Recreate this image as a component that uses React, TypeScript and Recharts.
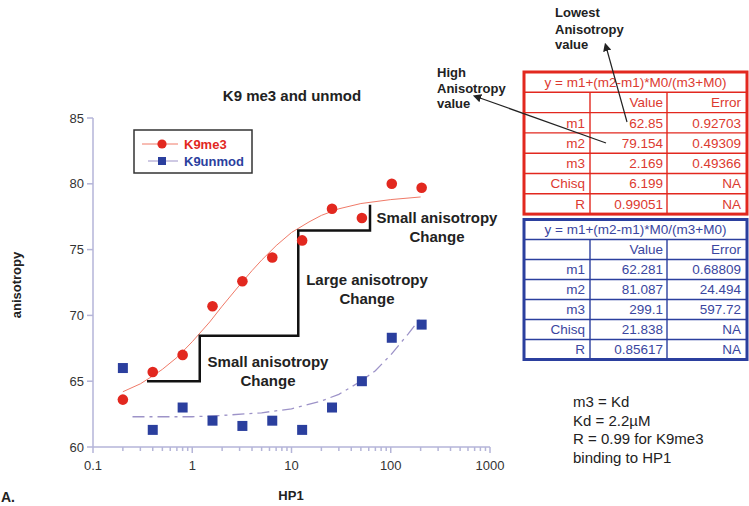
import React from "react";
import { ScatterChart, Scatter, XAxis, YAxis } from "recharts";

// HP1 concentration (log axis)
const hp1Dose = [0.2, 0.4, 0.8, 1.6, 3.2, 6.4, 12.8, 25.6, 51.2, 102.4, 204.8];
const k9me3 = [63.6, 65.7, 67.0, 70.7, 72.6, 74.4, 75.7, 78.1, 77.4, 80.0, 79.7];
const k9unmod = [66.0, 61.3, 63.0, 62.0, 61.6, 62.0, 61.3, 63.0, 65.0, 68.3, 69.3];

// fitted curves
const me3FitX = [0.2, 0.3, 0.4, 0.5, 0.7, 1, 1.5, 2, 3, 4, 5, 7, 10, 15, 20, 30, 50, 100, 200];
const me3FitY = [64.2, 64.8, 65.4, 65.9, 66.8, 68.0, 69.5, 70.7, 72.3, 73.4, 74.2, 75.3, 76.3, 77.1, 77.6, 78.1, 78.5, 78.8, 79.0];
const unmodFitX = [0.25, 0.5, 1, 2, 5, 10, 20, 30, 50, 70, 100, 150, 200];
const unmodFitY = [62.3, 62.3, 62.3, 62.4, 62.6, 62.9, 63.5, 64.0, 65.0, 65.8, 67.0, 68.6, 69.8];

// black step annotation
const stepX = [0.35, 1.19, 1.19, 11.7, 11.7, 61.8, 61.8];
const stepY = [65, 65, 68.45, 68.45, 76.45, 76.45, 78.4];

const xMajorTicks = [0.1, 1, 10, 100, 1000];
const xTickLabels = ["0.1", "1", "10", "100", "1000"];
const xMinorSteps = [2, 3, 4, 5, 6, 7, 8, 9];
const yTicks = [60, 65, 70, 75, 80, 85];

const paramNames = ["m1", "m2", "m3", "Chisq", "R"];
const me3Values = ["62.85", "79.154", "2.169", "6.199", "0.99051"];
const me3Errors = ["0.92703", "0.49309", "0.49366", "NA", "NA"];
const unmodValues = ["62.281", "81.087", "299.1", "21.838", "0.85617"];
const unmodErrors = ["0.68809", "24.494", "597.72", "NA", "NA"];
const fitEquation = "y = m1+(m2-m1)*M0/(m3+M0)";

const RED = "#e2281f";
const RED_LINE = "#f07a68";
const BLUE = "#2b3f9e";
const BLUE_LINE = "#9d93c8";
const AXIS = "#b5b5d8";
const FONT = "Arial, 'Liberation Sans', Helvetica, sans-serif";

const allXTicks = [
  ...xMajorTicks,
  ...xMajorTicks.slice(0, -1).flatMap((d) => xMinorSteps.map((m) => d * m)),
].sort((a, b) => a - b);

const me3Data = hp1Dose.map((x, i) => ({ x, y: k9me3[i] }));
const unmodData = hp1Dose.map((x, i) => ({ x, y: k9unmod[i] }));
const me3Fit = me3FitX.map((x, i) => ({ x, y: me3FitY[i] }));
const unmodFit = unmodFitX.map((x, i) => ({ x, y: unmodFitY[i] }));
const stepData = stepX.map((x, i) => ({ x, y: stepY[i] }));

const RedDot = (p: any) => <circle cx={p.cx} cy={p.cy} r={5.3} fill={RED} />;
const BlueSquare = (p: any) => <rect x={p.cx - 5} y={p.cy - 5} width={10} height={10} fill={BLUE} />;
const NoDot = () => <g />;

const XTick = (props: any) => {
  const { x, y, payload } = props;
  const idx = xMajorTicks.findIndex((t) => Math.abs(t - payload.value) < 1e-9);
  const major = idx >= 0;
  return (
    <g>
      <line x1={x} x2={x} y1={y} y2={y + (major ? 6 : 4)} stroke={AXIS} strokeWidth={1.5} />
      {major && (
        <text x={x} y={y + 23} textAnchor="middle" fontSize={13} fill="#333" fontFamily={FONT}>
          {xTickLabels[idx]}
        </text>
      )}
    </g>
  );
};

function FitTable(props: {
  top: number;
  rowH: number;
  color: string;
  textColor: string;
  values: string[];
  errors: string[];
}) {
  const { top, rowH, color, textColor, values, errors } = props;
  const left = 524;
  const right = 747;
  const c1 = 590;
  const c2 = 667;
  const bottom = top + rowH * 7;
  const base = (r: number) => top + rowH * r + rowH / 2 + 4.8;
  const txt = { fontSize: 13.5, fill: textColor, fontFamily: FONT } as const;
  return (
    <g>
      <rect x={left} y={top} width={right - left} height={bottom - top} fill="white" stroke={color} strokeWidth={3} />
      {[1, 2, 3, 4, 5, 6].map((r) => (
        <line key={r} x1={left} x2={right} y1={top + rowH * r} y2={top + rowH * r} stroke={color} strokeWidth={1.4} />
      ))}
      <line x1={c1} x2={c1} y1={top + rowH} y2={bottom} stroke={color} strokeWidth={1.4} />
      <line x1={c2} x2={c2} y1={top + rowH} y2={bottom} stroke={color} strokeWidth={1.4} />
      <text x={(left + right) / 2} y={base(0)} textAnchor="middle" {...txt}>
        {fitEquation}
      </text>
      <text x={c2 - 4} y={base(1)} textAnchor="end" {...txt}>Value</text>
      <text x={right - 6} y={base(1)} textAnchor="end" {...txt}>Error</text>
      {paramNames.map((n, i) => (
        <g key={n}>
          <text x={c1 - 5} y={base(i + 2)} textAnchor="end" {...txt}>{n}</text>
          <text x={c2 - 4} y={base(i + 2)} textAnchor="end" {...txt}>{values[i]}</text>
          <text x={right - 6} y={base(i + 2)} textAnchor="end" {...txt}>{errors[i]}</text>
        </g>
      ))}
    </g>
  );
}

export default function App() {
  const bold = { fontFamily: FONT, fontWeight: 700, fill: "#222" } as const;
  return (
    <div style={{ position: "absolute", left: 0, top: 0, width: 749, height: 506, background: "white", overflow: "hidden" }}>
      <ScatterChart width={749} height={506} margin={{ top: 118, right: 259, bottom: 29, left: 0 }}>
        <XAxis
          type="number"
          dataKey="x"
          scale="log"
          domain={[0.1, 1000]}
          allowDataOverflow
          ticks={allXTicks}
          interval={0}
          tick={<XTick />}
          tickLine={false}
          tickSize={0}
          tickMargin={0}
          height={30}
          axisLine={{ stroke: AXIS, strokeWidth: 1.5 }}
        />
        <YAxis
          type="number"
          dataKey="y"
          domain={[60, 85]}
          ticks={yTicks}
          width={93}
          tickSize={6}
          tickMargin={3}
          axisLine={{ stroke: AXIS, strokeWidth: 1.5 }}
          tickLine={{ stroke: AXIS, strokeWidth: 1.5 }}
          tick={{ fill: "#333", fontSize: 13, fontFamily: FONT }}
        />
        <Scatter data={me3Fit} line={{ stroke: RED_LINE, strokeWidth: 1 }} lineType="joint" shape={NoDot} isAnimationActive={false} />
        <Scatter
          data={unmodFit}
          line={{ stroke: BLUE_LINE, strokeWidth: 1.3, strokeDasharray: "12 5 3 5" }}
          lineType="joint"
          shape={NoDot}
          isAnimationActive={false}
        />
        <Scatter data={stepData} line={{ stroke: "#111", strokeWidth: 2.5 }} lineType="joint" shape={NoDot} isAnimationActive={false} />
        <Scatter data={me3Data} shape={RedDot} isAnimationActive={false} />
        <Scatter data={unmodData} shape={BlueSquare} isAnimationActive={false} />
      </ScatterChart>

      <svg width={749} height={506} style={{ position: "absolute", left: 0, top: 0, pointerEvents: "none" }}>
        <defs>
          <marker id="arrow" viewBox="0 0 10 10" refX="1" refY="5" markerWidth="7" markerHeight="7" orient="auto-start-reverse">
            <path d="M0,0 L10,5 L0,10 z" fill="#222" />
          </marker>
        </defs>

        <text x={292} y={101} textAnchor="middle" fontSize={15} {...bold}>K9 me3 and unmod</text>
        <text x={16} y={285} textAnchor="middle" fontSize={13} transform="rotate(-90 16 285)" dominantBaseline="central" {...bold}>
          anisotropy
        </text>
        <text x={291} y={500} textAnchor="middle" fontSize={13} {...bold}>HP1</text>
        <text x={1} y={502} fontSize={14} {...bold}>A.</text>

        {/* legend */}
        <rect x={134} y={130} width={118} height={43} fill="white" stroke="#333" strokeWidth={1.5} />
        <line x1={142} x2={178} y1={144} y2={144} stroke={RED_LINE} strokeWidth={1} />
        <circle cx={162} cy={144} r={4.6} fill={RED} />
        <text x={184} y={148.5} fontSize={13} fontFamily={FONT} fontWeight={700} fill={RED}>K9me3</text>
        <line x1={148} x2={178} y1={161} y2={161} stroke={BLUE_LINE} strokeWidth={1} />
        <rect x={158} y={157} width={8} height={8} fill={BLUE} />
        <text x={184} y={165.5} fontSize={13} fontFamily={FONT} fontWeight={700} fill={BLUE}>K9unmod</text>

        {/* step annotations */}
        <text x={437} y={223} textAnchor="middle" fontSize={15} {...bold}>Small anisotropy</text>
        <text x={437} y={242} textAnchor="middle" fontSize={15} {...bold}>Change</text>
        <text x={367} y={285} textAnchor="middle" fontSize={15} {...bold}>Large anisotropy</text>
        <text x={367} y={304} textAnchor="middle" fontSize={15} {...bold}>Change</text>
        <text x={268} y={367} textAnchor="middle" fontSize={15} {...bold}>Small anisotropy</text>
        <text x={268} y={386} textAnchor="middle" fontSize={15} {...bold}>Change</text>

        {/* callouts */}
        <text x={555} y={17} fontSize={13} {...bold}>Lowest</text>
        <text x={555} y={33.5} fontSize={13} {...bold}>Anisotropy</text>
        <text x={555} y={48.5} fontSize={13} {...bold}>value</text>
        <text x={437} y={76.5} fontSize={13} {...bold}>High</text>
        <text x={437} y={92.5} fontSize={13} {...bold}>Anisotropy</text>
        <text x={437} y={107.5} fontSize={13} {...bold}>value</text>

        <FitTable top={72} rowH={20.3} color={RED} textColor="#dc3a30" values={me3Values} errors={me3Errors} />
        <FitTable top={219.5} rowH={20} color={BLUE} textColor="#3a46a0" values={unmodValues} errors={unmodErrors} />

        <line x1={607} y1={50} x2={627} y2={122} stroke="#222" strokeWidth={1.2} markerStart="url(#arrow)" />
        <line x1={480} y1={98} x2={606} y2={143} stroke="#222" strokeWidth={1.2} markerStart="url(#arrow)" />

        {/* note */}
        <g fontSize={15} fontFamily={FONT} fill="#222">
          <text x={573} y={407}>m3 = Kd</text>
          <text x={573} y={425.5}>Kd = 2.2µM</text>
          <text x={573} y={444}>R = 0.99 for K9me3</text>
          <text x={573} y={463}>binding to HP1</text>
        </g>
      </svg>
    </div>
  );
}
